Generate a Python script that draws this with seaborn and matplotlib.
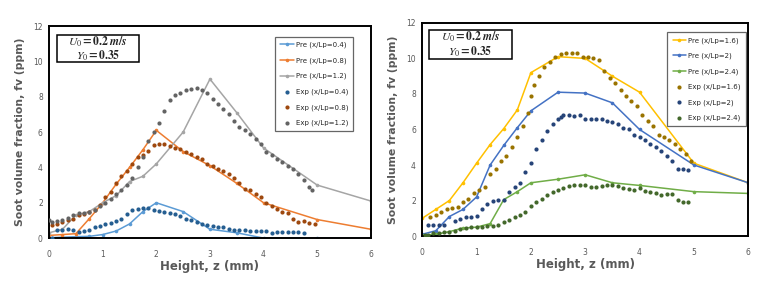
import numpy as np
import pandas as pd
import matplotlib
matplotlib.use("Agg")
import matplotlib.pyplot as plt
from matplotlib.patches import Rectangle
import seaborn as sns

# Prediction x-grid (same for all Pre series)
z_pre = [0, 0.25, 0.5, 0.75, 1, 1.25, 1.5, 1.75, 2, 2.5, 3, 3.5, 4, 5, 6]

# Left panel - predictions
pre_04 = [0.02, 0.05, 0.08, 0.1, 0.2, 0.4, 0.8, 1.5, 2.0, 1.5, 0.5, 0.3, 0.0, 0.0, 0.0]
pre_08 = [0.15, 0.2, 0.25, 1.1, 2.0, 3.05, 4.0, 5.0, 6.1, 4.9, 4.1, 3.1, 2.0, 1.05, 0.5]
pre_12 = [0.3, 0.5, 1.3, 1.5, 2.0, 2.4, 3.2, 3.5, 4.2, 6.0, 9.0, 7.1, 5.1, 3.0, 2.1]

# Left panel - experiments
z_exp04 = [0.05, 0.15, 0.25, 0.35, 0.45, 0.55, 0.65, 0.75, 0.85, 0.95, 1.05, 1.15, 1.25,
           1.35, 1.45, 1.55, 1.65, 1.75, 1.85, 1.95, 2.05, 2.15, 2.25, 2.35, 2.45, 2.55,
           2.65, 2.75, 2.85, 2.95, 3.05, 3.15, 3.25, 3.35, 3.45, 3.55, 3.65, 3.75, 3.85,
           3.95, 4.05, 4.15, 4.25, 4.35, 4.45, 4.55, 4.65, 4.75]
exp_04 = [0.0, 0.45, 0.45, 0.5, 0.45, 0.35, 0.4, 0.45, 0.6, 0.7, 0.8, 0.85, 0.95, 1.1,
          1.35, 1.6, 1.65, 1.7, 1.7, 1.6, 1.55, 1.5, 1.4, 1.35, 1.25, 1.1, 1.05, 0.9, 0.8,
          0.72, 0.7, 0.65, 0.6, 0.5, 0.45, 0.45, 0.45, 0.42, 0.4, 0.4, 0.38, 0.3, 0.35,
          0.35, 0.35, 0.35, 0.32, 0.3]
z_exp08 = [0.05, 0.15, 0.25, 0.35, 0.45, 0.55, 0.65, 0.75, 0.85, 0.95, 1.05, 1.15, 1.25,
           1.35, 1.45, 1.55, 1.65, 1.75, 1.85, 1.95, 2.05, 2.15, 2.25, 2.35, 2.45, 2.55,
           2.65, 2.75, 2.85, 2.95, 3.05, 3.15, 3.25, 3.35, 3.45, 3.55, 3.65, 3.75, 3.85,
           3.95, 4.05, 4.15, 4.25, 4.35, 4.45, 4.55, 4.65, 4.75, 4.85, 4.95]
exp_08 = [0.75, 0.8, 0.9, 1.0, 1.1, 1.3, 1.35, 1.45, 1.6, 1.85, 2.3, 2.6, 3.1, 3.5, 3.8,
          4.2, 4.6, 4.7, 4.95, 5.25, 5.35, 5.3, 5.2, 5.1, 5.05, 4.9, 4.75, 4.6, 4.5, 4.2,
          4.1, 3.9, 3.8, 3.6, 3.4, 3.1, 2.8, 2.7, 2.5, 2.3, 2.0, 1.8, 1.65, 1.5, 1.4, 1.1,
          0.9, 0.95, 0.85, 0.8]
z_exp12 = [0.0, 0.05, 0.15, 0.25, 0.35, 0.45, 0.55, 0.65, 0.75, 0.85, 0.95, 1.05, 1.15,
           1.25, 1.35, 1.45, 1.55, 1.65, 1.75, 1.85, 1.95, 2.05, 2.15, 2.25, 2.35, 2.45,
           2.55, 2.65, 2.75, 2.85, 2.95, 3.05, 3.15, 3.25, 3.35, 3.45, 3.55, 3.65, 3.75,
           3.85, 3.95, 4.05, 4.15, 4.25, 4.35, 4.45, 4.55, 4.65, 4.75, 4.85, 4.9]
exp_12 = [1.0, 0.9, 0.95, 1.0, 1.15, 1.3, 1.4, 1.4, 1.5, 1.6, 1.8, 2.0, 2.2, 2.5, 2.75,
          3.0, 3.4, 4.0, 4.6, 5.5, 6.0, 6.5, 7.2, 7.8, 8.1, 8.2, 8.4, 8.45, 8.5, 8.4, 8.2,
          7.9, 7.6, 7.3, 7.0, 6.6, 6.3, 6.1, 5.9, 5.6, 5.3, 4.9, 4.7, 4.5, 4.3, 4.1, 3.9,
          3.6, 3.3, 2.9, 2.7]

# Right panel - predictions
pre_16 = [1.0, 1.5, 2.0, 3.0, 4.1, 5.15, 6.05, 7.1, 9.2, 10.1, 10.0, 9.0, 8.1, 4.1, 3.0]
pre_20 = [0.1, 0.3, 1.1, 1.5, 2.2, 4.0, 5.1, 6.1, 7.05, 8.1, 8.05, 7.5, 6.0, 4.0, 3.0]
pre_24 = [0.05, 0.1, 0.25, 0.45, 0.5, 0.7, 2.05, 2.5, 3.0, 3.2, 3.45, 3.0, 2.85, 2.5, 2.4]

# Right panel - experiments
z_exp16 = [0.15, 0.25, 0.35, 0.45, 0.55, 0.65, 0.75, 0.85, 0.95, 1.05, 1.15, 1.25, 1.35,
           1.45, 1.55, 1.65, 1.75, 1.85, 1.95, 2.0, 2.05, 2.15, 2.25, 2.35, 2.45, 2.55,
           2.65, 2.75, 2.85, 2.95, 3.05, 3.15, 3.25, 3.35, 3.45, 3.55, 3.65, 3.75, 3.85,
           3.95, 4.05, 4.15, 4.25, 4.35, 4.45, 4.55, 4.65, 4.75, 4.85, 4.95]
exp_16 = [1.1, 1.2, 1.35, 1.5, 1.6, 1.65, 1.9, 2.1, 2.4, 2.6, 2.75, 3.5, 3.8, 4.2, 4.5,
          5.0, 5.6, 6.2, 6.9, 7.9, 8.5, 9.0, 9.5, 9.8, 10.1, 10.25, 10.3, 10.3, 10.3, 10.1,
          10.1, 10.05, 9.9, 9.3, 8.9, 8.6, 8.2, 7.9, 7.6, 7.3, 6.8, 6.5, 6.2, 5.7, 5.6,
          5.4, 5.2, 4.9, 4.6, 4.2]
z_exp20 = [0.1, 0.2, 0.3, 0.4, 0.6, 0.7, 0.8, 0.9, 1.0, 1.1, 1.2, 1.3, 1.4, 1.5, 1.6,
           1.7, 1.8, 1.9, 2.0, 2.1, 2.2, 2.3, 2.4, 2.5, 2.55, 2.6, 2.7, 2.8, 2.9, 3.0,
           3.1, 3.2, 3.3, 3.4, 3.5, 3.6, 3.7, 3.8, 3.9, 4.0, 4.1, 4.2, 4.3, 4.4, 4.5, 4.6,
           4.7, 4.8, 4.9]
exp_20 = [0.6, 0.6, 0.6, 0.6, 0.85, 0.95, 1.05, 1.1, 1.15, 1.5, 1.8, 2.0, 2.05, 2.05,
          2.5, 2.75, 3.0, 3.6, 4.1, 4.9, 5.4, 5.9, 6.3, 6.6, 6.7, 6.8, 6.8, 6.75, 6.8,
          6.6, 6.6, 6.6, 6.6, 6.5, 6.4, 6.3, 6.1, 6.0, 5.7, 5.6, 5.4, 5.2, 5.0, 4.8,
          4.5, 4.2, 3.8, 3.75, 3.7]
z_exp24 = [0.05, 0.1, 0.2, 0.3, 0.4, 0.5, 0.6, 0.7, 0.8, 0.9, 1.0, 1.1, 1.2, 1.3, 1.4,
           1.5, 1.6, 1.7, 1.8, 1.9, 2.0, 2.1, 2.2, 2.3, 2.4, 2.5, 2.6, 2.7, 2.8, 2.9, 3.0,
           3.1, 3.2, 3.3, 3.4, 3.5, 3.6, 3.7, 3.8, 3.9, 4.0, 4.1, 4.2, 4.3, 4.4, 4.5, 4.6,
           4.7, 4.8, 4.9]
exp_24 = [0.05, 0.05, 0.15, 0.2, 0.25, 0.25, 0.3, 0.4, 0.45, 0.5, 0.5, 0.5, 0.55, 0.55,
          0.6, 0.8, 0.9, 1.05, 1.2, 1.35, 1.7, 1.9, 2.1, 2.3, 2.5, 2.6, 2.7, 2.8, 2.85,
          2.9, 2.85, 2.75, 2.75, 2.8, 2.9, 2.85, 2.8, 2.7, 2.65, 2.6, 2.7, 2.55, 2.5, 2.4,
          2.3, 2.35, 2.35, 2.05, 1.9, 1.9]

pre_left = [("Pre (x/Lp=0.4)", pre_04, "#5B9BD5"),
            ("Pre (x/Lp=0.8)", pre_08, "#ED7D31"),
            ("Pre (x/Lp=1.2)", pre_12, "#A5A5A5")]
exp_left = [("Exp (x/Lp=0.4)", z_exp04, exp_04, "#255E91"),
            ("Exp (x/Lp=0.8)", z_exp08, exp_08, "#9E480E"),
            ("Exp (x/Lp=1.2)", z_exp12, exp_12, "#636363")]
pre_right = [("Pre (x/Lp=1.6)", pre_16, "#FFC000"),
             ("Pre (x/Lp=2)", pre_20, "#4472C4"),
             ("Pre (x/Lp=2.4)", pre_24, "#70AD47")]
exp_right = [("Exp (x/Lp=1.6)", z_exp16, exp_16, "#997300"),
             ("Exp (x/Lp=2)", z_exp20, exp_20, "#264478"),
             ("Exp (x/Lp=2.4)", z_exp24, exp_24, "#43682B")]

sns.set_theme(style="white")
plt.rcParams["mathtext.fontset"] = "stix"
plt.rcParams["font.family"] = ["DejaVu Sans"]

fig = plt.figure(figsize=(7.79, 2.90), dpi=100)
ax1 = fig.add_axes([0.063, 0.179, 0.413, 0.731])
ax2 = fig.add_axes([0.542, 0.186, 0.4185, 0.735])

gray = "#595959"


def dibujar(ax, pres, exps, leg_box, caja):
    for nombre, vals, color in pres:
        df = pd.DataFrame({"z": z_pre, "fv": vals})
        sns.lineplot(data=df, x="z", y="fv", ax=ax, color=color, linewidth=1.1,
                     marker="o", markersize=2.6, markeredgewidth=0, label=nombre)
    for nombre, zs, vals, color in exps:
        df = pd.DataFrame({"z": zs, "fv": vals})
        sns.scatterplot(data=df, x="z", y="fv", ax=ax, color=color, s=9,
                        linewidth=0, label=nombre, zorder=3)

    ax.set_xlim(0, 6)
    ax.set_ylim(0, 12)
    ax.set_xticks(range(0, 7))
    ax.set_yticks(range(0, 13, 2))
    ax.tick_params(axis="both", labelsize=5.5, labelcolor=gray, length=2.5,
                   width=0.8, color="black", direction="out", pad=2)
    ax.tick_params(axis="x", pad=6)
    for s in ax.spines.values():
        s.set_color("black")
        s.set_linewidth(1.4)

    ax.set_xlabel("Height, z (mm)", fontsize=8.5, fontweight="bold", color=gray, labelpad=1)
    ax.set_ylabel("Soot volume fraction, fv (ppm)", fontsize=7.8, fontweight="bold",
                  color=gray, labelpad=6)

    leg = ax.legend(loc="upper right", bbox_to_anchor=leg_box, fontsize=5.0,
                    frameon=True, fancybox=False, labelspacing=1.3,
                    handlelength=1.9, handletextpad=0.3, borderpad=0.75,
                    borderaxespad=0.0, markerscale=1.0)
    leg.get_frame().set_edgecolor("#404040")
    leg.get_frame().set_linewidth(0.9)

    # recuadro con las condiciones
    x0, y0, x1, y1 = caja
    ax.add_patch(Rectangle((x0, y0), x1 - x0, y1 - y0, transform=ax.transAxes,
                           facecolor="white", edgecolor="black", linewidth=1.1, zorder=5))
    ax.text((x0 + x1) / 2, (y0 + y1) / 2,
            r"$\boldsymbol{U_0 = 0.2\ m/s}$" + "\n" + r"$\boldsymbol{Y_0 = 0.35}$",
            transform=ax.transAxes, ha="center", va="center", fontsize=8.4,
            linespacing=1.0, zorder=6)


dibujar(ax1, pre_left, exp_left, (0.946, 0.95), (0.025, 0.83, 0.28, 0.958))
dibujar(ax2, pre_right, exp_right, (0.992, 0.958), (0.021, 0.831, 0.276, 0.967))

fig.savefig("out.png", dpi=100)
